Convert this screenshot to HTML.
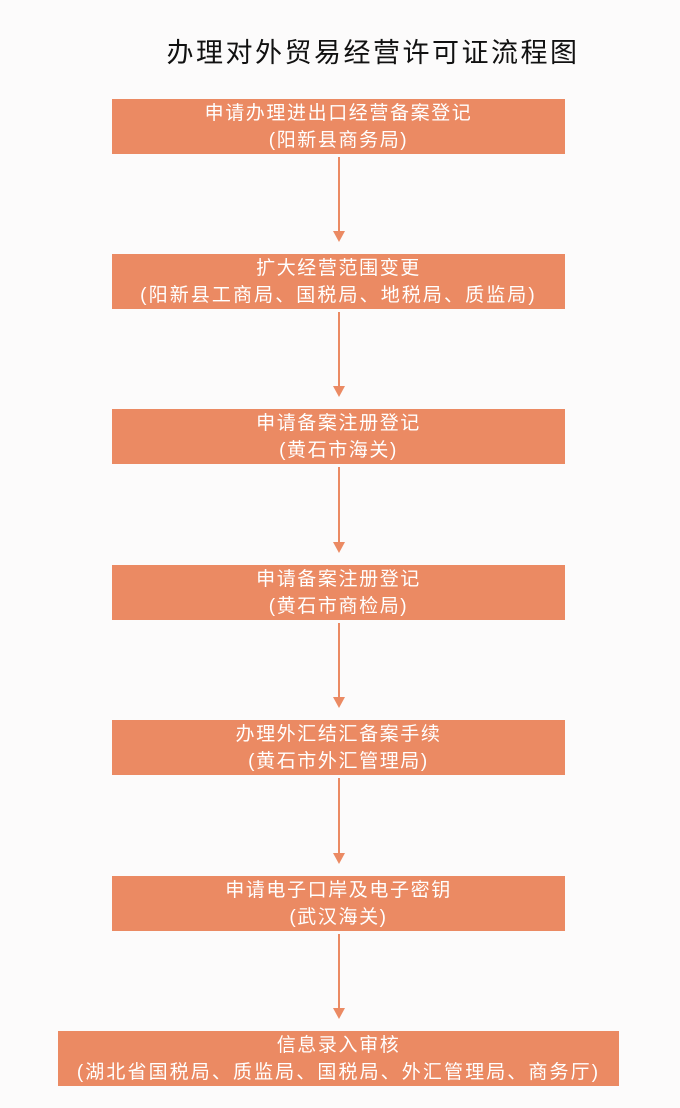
<!DOCTYPE html>
<html><head><meta charset="utf-8"><style>
body{margin:0;width:680px;height:1108px;background:#fcfbfb;position:relative;overflow:hidden;font-family:"Liberation Sans","Noto Sans CJK SC",sans-serif;}
.t{position:absolute;left:150px;top:31px;width:446px;text-align:center;font-size:27px;color:#111;letter-spacing:2.5px;}
.b{position:absolute;background:#eb8a63;color:#fff;text-align:center;font-size:19px;line-height:27px;padding-top:1px;box-sizing:border-box;height:55px;letter-spacing:1.6px;}
.b span{letter-spacing:2.1px}
.l{position:absolute;left:338px;width:2px;background:#eb8a63;}
.a{position:absolute;left:333px;width:0;height:0;border-left:6px solid transparent;border-right:6px solid transparent;border-top:11px solid #eb8a63;}
</style></head><body>
<div class="t">办理对外贸易经营许可证流程图</div>
<div class="b" style="left:112px;top:99px;width:453px">申请办理进出口经营备案登记<br>(阳新县商务局)</div>
<div class="b" style="left:112px;top:254px;width:453px">扩大经营范围变更<br><span>(阳新县工商局、国税局、地税局、质监局)</span></div>
<div class="b" style="left:112px;top:409px;width:453px">申请备案注册登记<br>(黄石市海关)</div>
<div class="b" style="left:112px;top:565px;width:453px">申请备案注册登记<br>(黄石市商检局)</div>
<div class="b" style="left:112px;top:720px;width:453px">办理外汇结汇备案手续<br>(黄石市外汇管理局)</div>
<div class="b" style="left:112px;top:876px;width:453px">申请电子口岸及电子密钥<br>(武汉海关)</div>
<div class="b" style="left:58px;top:1031px;width:561px">信息录入审核<br><span>(湖北省国税局、质监局、国税局、外汇管理局、商务厅)</span></div>
<div class="l" style="top:157px;height:75px"></div><div class="a" style="top:231px"></div>
<div class="l" style="top:312px;height:75px"></div><div class="a" style="top:386px"></div>
<div class="l" style="top:467px;height:76px"></div><div class="a" style="top:542px"></div>
<div class="l" style="top:623px;height:75px"></div><div class="a" style="top:697px"></div>
<div class="l" style="top:778px;height:76px"></div><div class="a" style="top:853px"></div>
<div class="l" style="top:934px;height:75px"></div><div class="a" style="top:1008px"></div>
</body></html>
